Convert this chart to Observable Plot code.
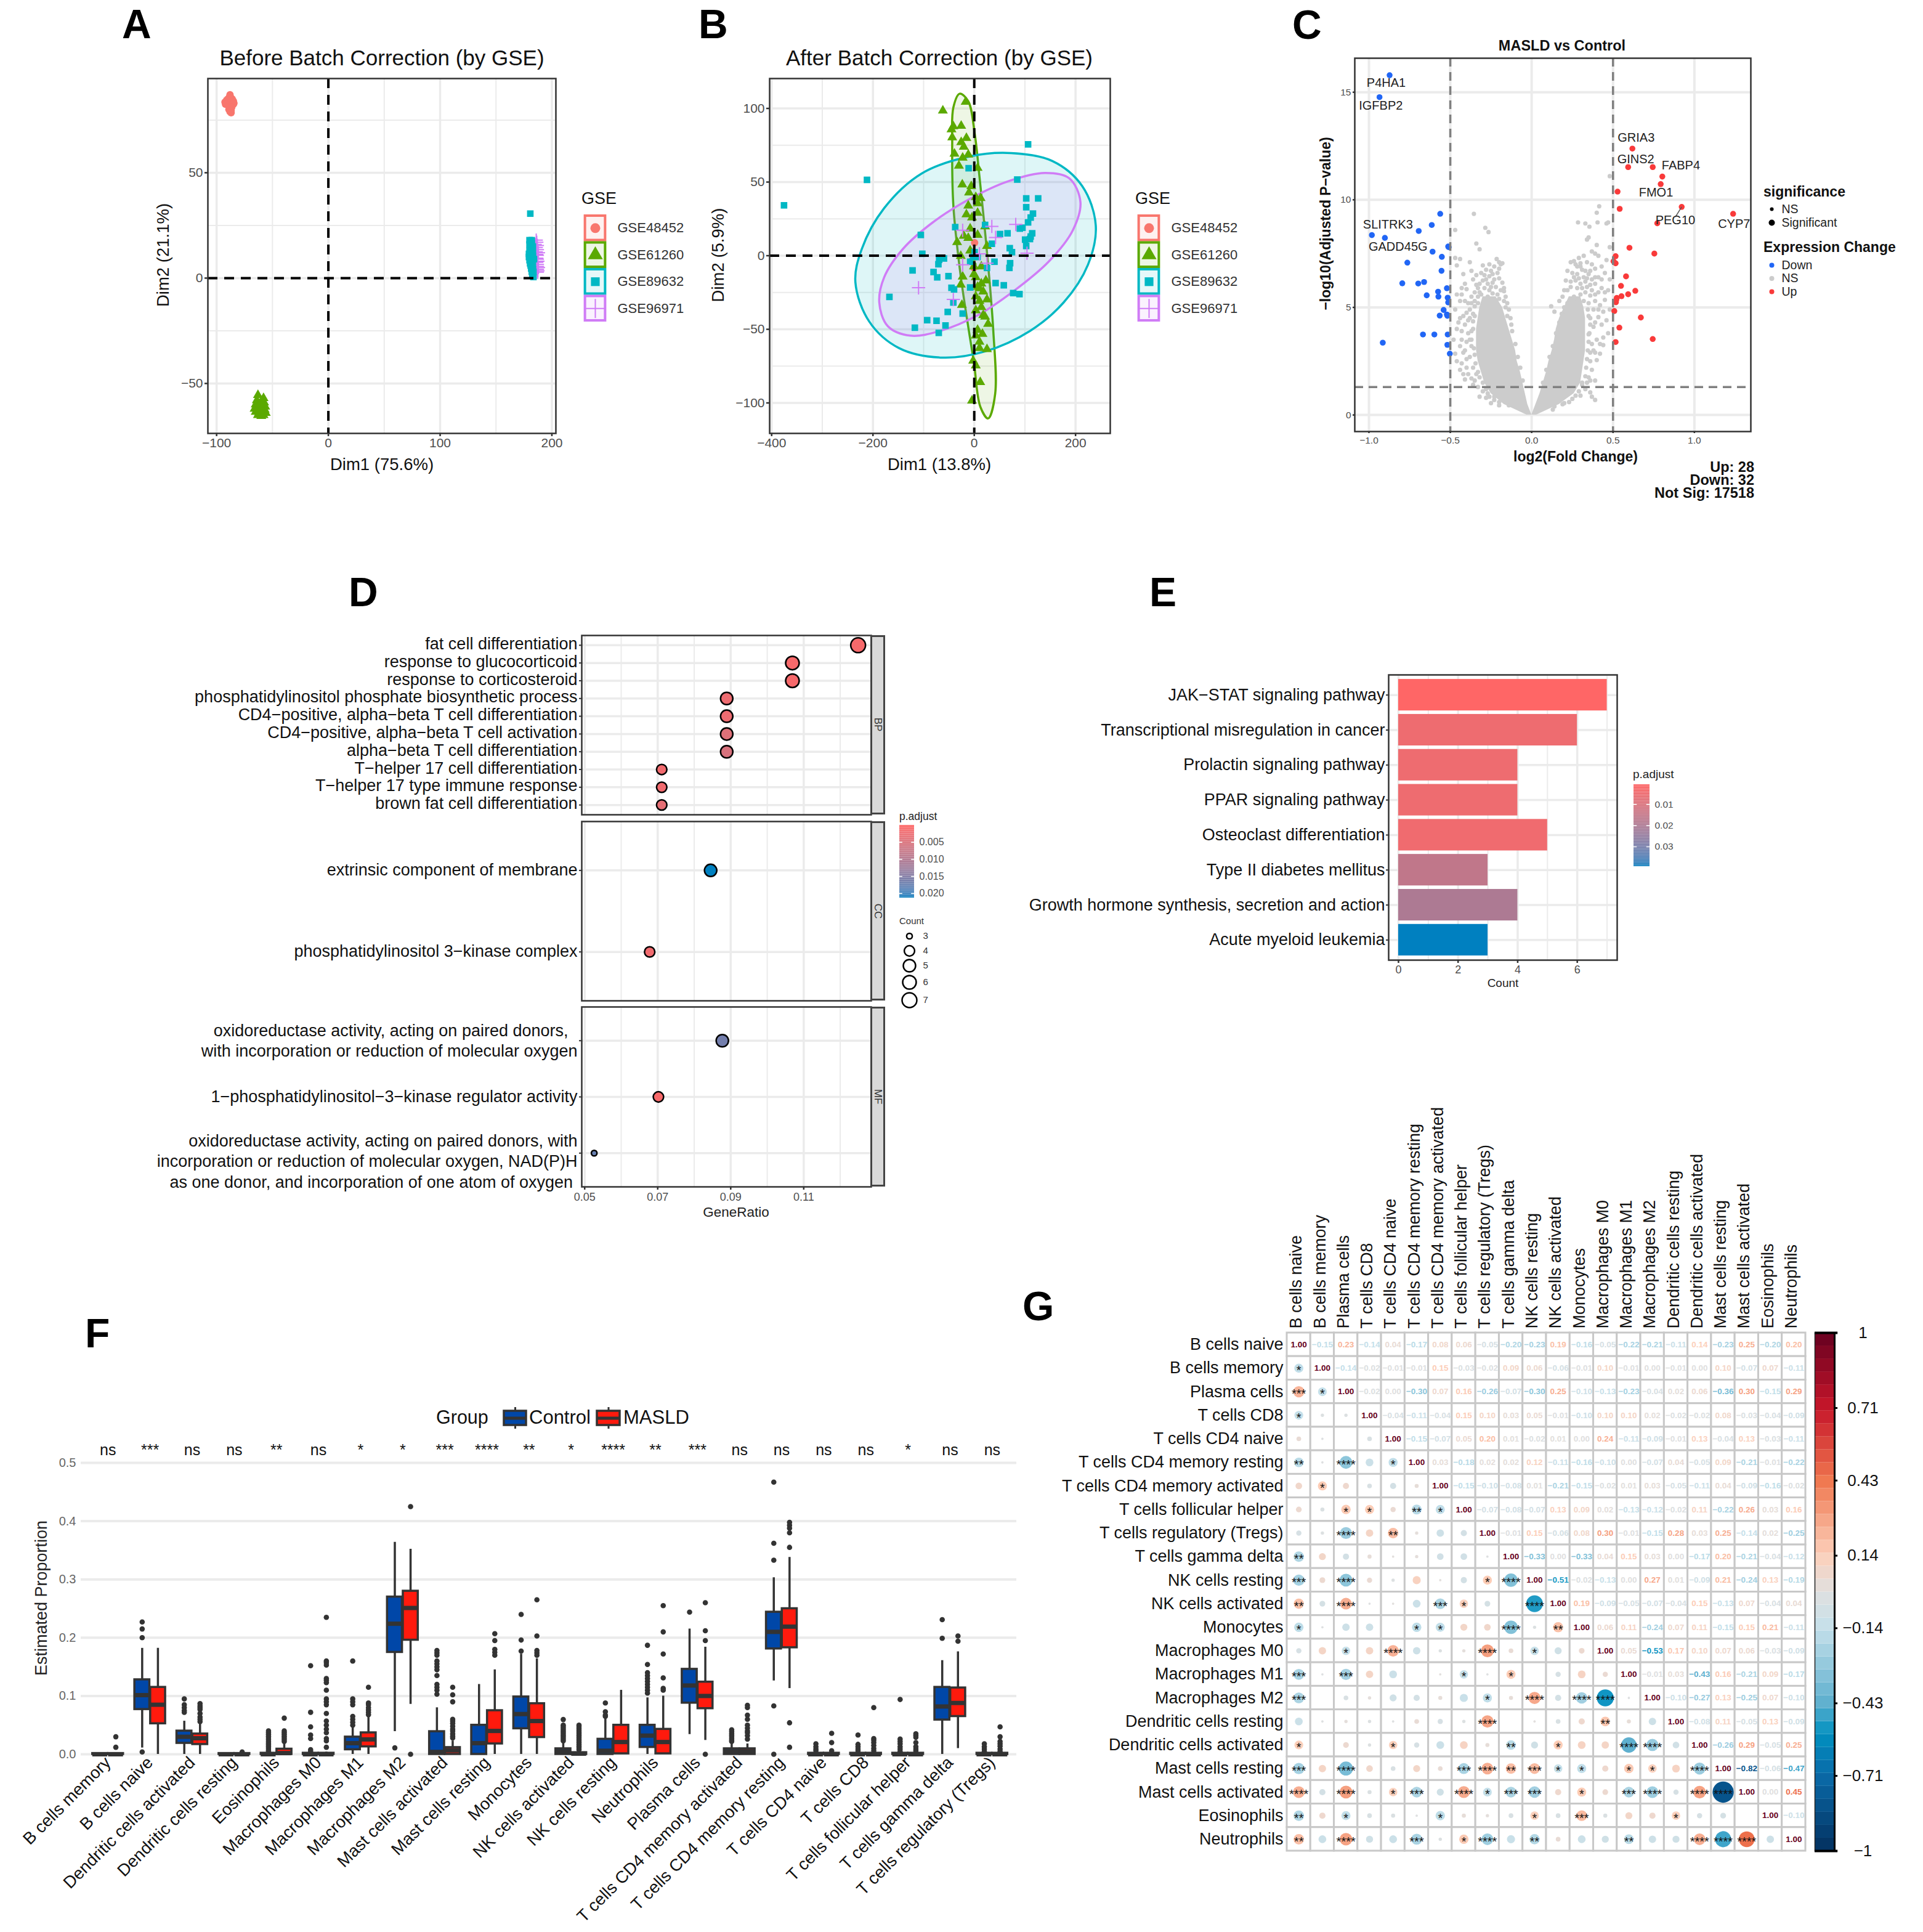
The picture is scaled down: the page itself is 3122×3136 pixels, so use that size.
<!DOCTYPE html>
<html><head><meta charset="utf-8">
<script src="https://cdn.jsdelivr.net/npm/d3@7"></script>
<script src="https://cdn.jsdelivr.net/npm/@observablehq/plot@0.6"></script>
<style>
html,body{margin:0;padding:0;background:#fff;}
#root{position:relative;width:3122px;height:3136px;overflow:hidden;font-family:"Liberation Sans",Arial,sans-serif;background:#fff;}
#root svg{position:absolute;max-width:none;}
.lb{position:absolute;white-space:pre;line-height:1;color:#111;}
.strip{position:absolute;background:#d9d9d9;border:3px solid #444;box-sizing:border-box;}
</style></head><body><div id="root"></div>
<script>
// ---------- Panels A, B ----------
const gseNames=["GSE48452","GSE61260","GSE89632","GSE96971"];
const gseColors=["#F8766D","#5BA900","#00B8C4","#D07CF6"];
const gseSymbols=["circle","triangle","square","plus"];
const pcaA_48452=[[-88,87],[-88.5,86],[-90,85],[-87,85.5],[-86,85],[-91,84.5],[-89,84],[-87,84],[-85,84],[-92.5,83.5],[-90,83],[-88,83],[-86,83.5],[-84.5,83],[-92,82.5],[-89,82],[-87,82],[-85,82.5],[-88,81],[-86.5,81],[-89,80],[-87,79.5],[-88,79],[-87,78.5]];
const pcaA_61260=[[-63,-55.5],[-58,-57],[-64,-58],[-60,-58.5],[-57.5,-59],[-65,-60],[-62,-60],[-59,-60.5],[-56.5,-61],[-66,-62],[-63,-62],[-60,-62],[-57,-62.5],[-65,-63.5],[-62,-64],[-59,-63.5],[-56,-64],[-63,-65],[-60,-65.5],[-58,-65],[-61,-60],[-61,-63]];
const pcaA_89632=[[180.7,30.6],[180,18],[182,18],[180,16],[182,16.5],[181,14.5],[183,15],[180,13],[182,13],[179.5,11.5],[181.5,11.5],[183,12],[179.5,10],[181,10],[183,10.5],[180,8.5],[182,9],[184,9],[180.5,7],[182.5,7.5],[181,6],[183,6],[181.5,4.5],[183,4.5],[182,3],[183.5,3],[182.5,1.5],[183.5,.5]];
const pcaA_96971=[[186,18],[186.5,17],[185,16],[187,15.5],[186,14.5],[187,13.5],[186,12.5],[188,12],[186.5,11.2],[187,10.8],[186.5,9.5],[187,9],[187.5,8],[186.5,7.5],[187,6.5],[187,5.5],[188,5],[187,4.2],[187.5,3.5],[187,2.8]];
const pcaB_48452=[[.7,8.8],[-2.2,2.4],[-4,-3],[-.7,-8.3]];
const pcaB_61260=[[-62,98.5],[-17,104.5],[-41.3,87.8],[-25.8,88.2],[-45,85.7],[-43.5,80.3],[-15.5,79.9],[-25.8,77.1],[-20.7,73.9],[-39.1,69.2],[-11.8,68.6],[-22.9,66.5],[-30.3,61.1],[6.6,59.6],[-23.6,48.3],[-5.9,47.2],[-10.3,42.9],[3,39.7],[12.5,39.1],[-11.8,34],[6.6,35.5],[-15.5,28],[-4.4,25.9],[6.6,29.1],[21.4,19.9],[-8.1,18.4],[-20.7,13.5],[-11.8,12],[6.6,14.1],[-33.9,9.2],[25.1,6.6],[-8.1,3.4],[-26.6,-.2],[14,-7.3],[-.7,-12.6],[-22.9,-14.3],[22.9,-16.9],[14,-19],[-26.6,-19.7],[6.6,-21.2],[17.7,-24.4],[3,-27.6],[25.1,-29.7],[10.3,-30.8],[-24.4,-33.5],[14,-35],[3,-37.2],[21.4,-41.5],[27.3,-46.4],[6.6,-50.4],[16.2,-53.2],[3,-54.3],[10.3,-58.5],[25.1,-63.5],[10.3,-62.8],[-2.2,-71.4],[3,-74.6],[11.8,-85.9],[-4.4,-98.5],[17.7,-40.4],[-4.4,-4.1],[3,-14.7],[10.3,-22.2],[-.7,-7.3]];
const pcaB_89632=[[-375.6,34.2],[-211.8,51.5],[106.3,75.6],[84.9,51.7],[102.6,38.9],[126.2,38.9],[102.6,32.9],[115.9,28.6],[111.4,25.9],[106.3,22.6],[95.2,19],[90,18.4],[114.4,15.2],[111.4,13],[100.4,10.9],[110,11.3],[102.6,6.6],[70.1,5.1],[74.5,2.4],[65.7,15.2],[50.9,14.7],[34.7,8.1],[70.8,-5.1],[69.4,-8.3],[39.9,-4.1],[25.1,-8.3],[42.1,-18.6],[58.3,-20.1],[76.8,-25.4],[89.3,-26.1],[21.4,20.9],[-37.6,19.4],[-105.5,14.1],[-102.6,1.3],[-59.8,-1.9],[-69.4,-2.8],[-70.8,-5.8],[-80.4,-11.1],[-73.1,-14.7],[-50.9,-13.9],[-121.8,-10],[-45,-21.8],[-39.9,-22.9],[-167.5,-28],[-52.4,-38.2],[-22.9,-39.3],[-93,-43.8],[-74.5,-44.2],[-56.8,-47.4],[-117.3,-48.9],[-70.1,-52.4],[-11.1,59.4],[-2.2,-.9],[6.6,-.9],[-8.1,-4.1],[.7,2.4],[-8.1,-21.6],[-41.3,-31.8]];
const pcaB_96971=[[-110,-21.8],[-41.3,-29.7],[-22.9,17.3],[-22.9,-6.2],[34.7,19.9],[42.1,12.4],[81.9,21.2],[104.1,1.7],[25.1,-5.1],[10.3,1.3]];
const ellipseB_89632=[[-234.7,-17.9],[-222.1,4.5],[-177.9,32.3],[-104,55.8],[-8.1,67.5],[73,69.7],[154.2,64.3],[213.3,47.2],[239.9,20.5],[224.4,-6.2],[176.4,-31.8],[110,-51.1],[21.4,-65],[-63.5,-69.2],[-148.3,-62.8],[-207.4,-44.7]];
const ellipseB_96971=[[-187.5,-31.8],[-177.9,-14.7],[-141,4.5],[-81.9,22.6],[-8.1,38.7],[65.7,50.4],[139.5,56.2],[187.5,52.6],[209.6,36.5],[194.8,17.4],[146.8,-4.1],[80.4,-23.4],[6.6,-40.5],[-67.2,-51.1],[-126.3,-54.3],[-170.6,-47.9]];
const ellipseB_61260=[[-28.8,110],[-11.8,104.9],[.7,83.5],[10.3,53.6],[25.1,2.4],[37.6,-51.1],[41.3,-93.8],[27.3,-110.5],[11.8,-102.4],[-.7,-72.4],[-15.5,-40.4],[-28.8,-8.3],[-41.3,34.4],[-43.5,77.1],[-41.3,100.6]];
// ---------- Panel C ----------
const volcanoUp=[[.619,12.38],[.593,11.52],[.744,11.52],[.803,11.08],[.793,10.73],[.528,10.38],[.541,9.58],[.922,9.67],[1.238,9.35],[.772,8.91],[.601,7.77],[.754,7.5],[.516,7.38],[.503,7.14],[.516,7.05],[.58,6.44],[.549,6],[.637,5.77],[.593,5.61],[.552,5.52],[.523,5.44],[.518,5.24],[.52,5.35],[.508,4.83],[.671,4.53],[.539,4.06],[.744,3.53],[.516,3.39]];
const volcanoDown=[[-.873,15.79],[-.935,14.77],[-.562,9.35],[-.614,8.83],[-.694,8.55],[-.982,8.36],[-.902,8.23],[-.513,7.83],[-.51,7.8],[-.609,7.59],[-.552,7.35],[-.764,7.08],[-.554,6.7],[-.795,6.12],[-.697,6.11],[-.661,6.18],[-.521,5.89],[-.575,5.73],[-.645,5.56],[-.573,5.5],[-.516,5.45],[-.513,5.23],[-.541,4.88],[-.565,4.62],[-.521,4.67],[-.518,4.61],[-.668,3.74],[-.598,3.74],[-.516,3.74],[-.915,3.36],[-.518,3.26],[-.503,2.85]];
const volcanoNS=[[-.355,9.35],[-.285,8.7],[-.265,8.5],[-.47,8.6],[-.34,7.97],[-.32,7.7],[-.47,7.3],[-.44,7.25],[-.46,6.95],[-.215,7.25],[-.19,7],[-.2,6.8],[-.18,7.05],[-.21,6.6],[-.25,6.7],[-.28,6.75],[-.3,6.95],[-.29,6.5],[-.38,7.1],[-.42,6.55],[-.41,6.1],[-.4,5.85],[-.43,5.6],[-.44,5.3],[-.36,6.3],[-.34,6.05],[-.3,6.25],[-.27,6.1],[-.24,6.15],[-.2,6.35],[-.18,6.15],[-.22,5.95],[-.17,5.9],[-.26,5.8],[-.32,5.7],[-.37,5.5],[-.39,5.2],[-.38,4.9],[-.42,4.6],[-.45,4.3],[-.41,4.2],[-.38,4.5],[-.43,3.9],[-.39,3.8],[-.4,3.4],[-.44,3.2],[-.47,2.85],[-.46,2.5],[-.42,2.9],[-.37,3.2],[-.38,2.7],[-.43,2.4],[-.44,2.1],[-.4,2.2],[-.39,1.9],[-.37,1.7],[-.35,1.6],[-.41,1.65],[-.33,1.3],[-.3,1.1],[-.32,.85],[-.26,.85],[-.23,.7],[-.2,.45],[-.14,.45],[-.36,2.2],[-.36,4],[-.36,4.7],[-.35,5.3],[-.33,5.5],[-.16,5.5],[-.15,5.2],[-.14,4.9],[-.13,4.5],[-.17,5.75],[-.24,5.65],
[-.31,5.6],[-.29,5.9],[-.27,5.5],[-.25,5.95],[-.23,6.3],[-.21,5.6],[-.19,5.8],[-.28,6.3],[-.26,6.45],[-.24,6.55],[-.32,6.1],[-.33,5.9],[-.35,5.7],[-.29,5.3],[-.25,5.3],[-.2,5.4],[-.17,5.3],[-.16,5],[-.15,4.6],[-.125,4.2],[-.12,3.9],[-.1,3.3],[-.085,2.7],[-.07,2.2],[-.055,1.6],[-.35,4.6],[-.36,4.35],[-.37,3.9],[-.37,3.5],[-.355,3.1],[-.35,2.8],[-.345,2.4],[-.33,2],[-.32,1.75],[-.3,1.5],[-.28,1.2],[-.27,1],[-.23,.85],[-.2,.6],[-.39,4.4],[-.4,4.75],[-.35,5.05],[-.37,5.2],[-.33,5.2],[-.31,6.6],[-.23,6.9],[-.2,7.1],[-.26,7],[-.34,6.5],[-.37,6.7],[-.43,5.9],[-.46,5.6],[-.41,5.3],[-.47,4.9],[-.44,4.5],[-.46,4],[-.48,3.5],[-.43,3.5],[-.41,3],[-.38,3.5],[-.4,2.6],[-.34,1.9],[-.36,1.4],[-.42,1.9],[-.28,.8],[-.25,.55],
[.48,11.1],[.415,9.7],[.4,9.4],[.47,8.95],[.46,8.9],[.285,8.95],[.33,8.9],[.355,8.75],[.405,8.95],[.34,8.15],[.35,8.25],[.4,7.9],[.48,7.8],[.41,7.4],[.26,7.15],[.24,7.1],[.27,7],[.3,7.05],[.34,7.1],[.37,7],[.39,6.8],[.43,6.9],[.46,7.2],[.22,6.7],[.25,6.6],[.28,6.55],[.31,6.75],[.35,6.55],[.41,6.4],[.45,6.6],[.48,6.3],[.21,6.25],[.24,6.2],[.27,6.25],[.3,6.1],[.33,6.2],[.36,6.05],[.39,6.1],[.43,5.9],[.47,5.8],[.22,5.8],[.19,5.5],[.17,5.3],[.12,5.05],[.14,4.8],[.2,5.8],[.33,5.7],[.36,5.55],[.39,5.3],[.42,5.1],[.45,5.35],[.48,4.9],[.38,4.9],[.41,4.55],[.36,4.5],[.46,4.4],[.43,4.2],[.38,4.1],[.47,3.8],[.35,3.75],[.4,3.5],[.44,3.25],[.38,3],[.42,2.85],[.4,2.55],[.36,2.5],[.37,2.1],[.35,1.75],[.39,1.6],[.31,1.5],[.33,1.2],[.36,1.05],[.39,.7],[.37,.85],[.3,.9],[.25,.75],[.19,.5],[.14,.4],[.13,.25],
[.3,5.6],[.28,5.9],[.26,5.5],[.24,5.95],[.26,6.4],[.29,6.35],[.32,6.4],[.34,6.35],[.37,6.3],[.31,5.9],[.34,5.95],[.37,5.8],[.39,5.6],[.41,5.7],[.35,5.2],[.32,5.3],[.28,5.3],[.24,5.4],[.22,5.2],[.2,5],[.185,4.7],[.17,4.3],[.15,3.8],[.13,3.2],[.11,2.7],[.09,2.1],[.07,1.5],[.345,4.9],[.35,4.6],[.36,4.2],[.355,3.8],[.35,3.4],[.345,3],[.34,2.6],[.335,2.2],[.33,1.8],[.31,1.4],[.29,1.1],[.27,.9],[.23,.6],[.2,.55],[.39,4.3],[.41,4.9],[.44,4.8],[.44,3.6],[.42,3.3],[.37,3.3],[.39,2.9],[.36,2.9],[.36,1.6],[.34,1.5],[.28,6.9],[.3,6.9],[.33,6.7],[.36,6.7],[.39,6.4],[.43,6.3],[.45,5.7],[.29,7.3],[.32,7.4],[.37,7.6],[.39,7.5]];
// dense body of the volcano, read as an envelope: y, left arm outer/inner, right arm inner/outer
const coreY=[0,.5,1,1.5,2,2.5,3,3.5,4,4.5,5,5.5];
const coreLeftOuter=[-.03,-.17,-.25,-.29,-.31,-.33,-.34,-.34,-.34,-.33,-.32,-.3];
const coreLeftInner=[0,-.025,-.04,-.055,-.07,-.09,-.1,-.12,-.14,-.16,-.18,-.22];
const coreRightInner=[0,.025,.05,.07,.09,.105,.125,.14,.15,.17,.2,.23];
const coreRightOuter=[.03,.17,.26,.3,.31,.32,.33,.33,.33,.33,.32,.3];
const volcanoGenes=["P4HA1","IGFBP2","SLITRK3","GADD45G","GRIA3","GINS2","FABP4","FMO1","PEG10","CYP7"];
const geneLabelX=[-.894,-.927,-.883,-.821,.642,.64,.917,.764,.883,1.244];
const geneLabelY=[15.42,14.36,8.86,7.83,12.88,11.88,11.59,10.33,9.05,8.88];
// ---------- Panel D ----------
const bpTerms=["fat cell differentiation","response to glucocorticoid","response to corticosteroid","phosphatidylinositol phosphate biosynthetic process","CD4−positive, alpha−beta T cell differentiation","CD4−positive, alpha−beta T cell activation","alpha−beta T cell differentiation","T−helper 17 cell differentiation","T−helper 17 type immune response","brown fat cell differentiation"];
const bpRatio=[.1249,.1069,.1069,.0889,.0889,.0889,.0889,.0711,.0711,.0711];
const bpCount=[7,6,6,5,5,5,5,4,4,4];
const bpP=[.0012,.0012,.0012,.0025,.0025,.0045,.0055,.002,.002,.0035];
const ccTerms=["extrinsic component of membrane","phosphatidylinositol 3−kinase complex"];
const ccRatio=[.0845,.0678];const ccCount=[5,4];const ccP=[.0213,.002];
const mfTerms=["oxidoreductase activity, acting on paired donors,\u00a0\u00a0\nwith incorporation or reduction of molecular oxygen","1−phosphatidylinositol−3−kinase regulator activity","oxidoreductase activity, acting on paired donors, with\nincorporation or reduction of molecular oxygen, NAD(P)H\nas one donor, and incorporation of one atom of oxygen\u00a0"];
const mfRatio=[.0877,.0702,.0526];const mfCount=[5,4,3];const mfP=[.0165,.001,.0175];
const countSizes=[3,4,5,6,7];
const countRadii=[4.6,8.4,10,11,12];
// ---------- Panel E ----------
const keggTerms=["JAK−STAT signaling pathway","Transcriptional misregulation in cancer","Prolactin signaling pathway","PPAR signaling pathway","Osteoclast differentiation","Type II diabetes mellitus","Growth hormone synthesis, secretion and action","Acute myeloid leukemia"];
const keggCount=[7,6,4,4,5,3,4,3];
const keggP=[.00064,.005,.005,.005,.0045,.016,.02,.0393];
// ---------- Panel F ----------
const boxCats=["B cells memory","B cells naive","Dendritic cells activated","Dendritic cells resting","Eosinophils","Macrophages M0","Macrophages M1","Macrophages M2","Mast cells activated","Mast cells resting","Monocytes","NK cells activated","NK cells resting","Neutrophils","Plasma cells","T cells CD4 memory activated","T cells CD4 memory resting","T cells CD4 naive","T cells CD8","T cells follicular helper","T cells gamma delta","T cells regulatory (Tregs)"];
const boxSig=["ns","***","ns","ns","**","ns","*","*","***","****","**","*","****","**","***","ns","ns","ns","ns","*","ns","ns"];
// each: q1, median, q3, whisker low, whisker high
const boxControl=[[0,0,.0015,0,.002],[.077,.1015,.128,.011,.182],[.019,.03,.04,0,.057],[0,0,.0015,0,.002],[0,0,.002,0,.004],[0,0,.002,0,.004],[.008,.019,.0297,0,.048],[.175,.224,.27,.039,.364],[0,.004,.039,0,.08],[0,.019,.05,0,.12],[.044,.069,.0985,0,.172],[0,.005,.0096,0,.019],[0,.006,.026,0,.063],[.012,.032,.05,0,.097],[.088,.118,.146,.034,.215],[0,.005,.0096,0,.02],[.181,.21,.244,.126,.303],[0,0,.002,0,.003],[0,0,.002,0,.003],[0,0,.002,0,.003],[.059,.082,.115,0,.161],[0,0,.002,0,.003]];
const boxMasld=[[0,0,.0015,0,.002],[.0526,.085,.115,0,.182],[.017,.0275,.035,0,.0526],[0,0,.0015,0,.002],[0,.002,.009,0,.02],[0,0,.002,0,.004],[.013,.0255,.037,0,.065],[.196,.251,.28,.086,.352],[0,.0067,.0117,0,.023],[.018,.04,.075,0,.145],[.029,.057,.087,0,.164],[0,.001,.003,0,.007],[.001,.021,.05,0,.11],[.001,.021,.043,0,.1],[.0785,.1,.124,.024,.184],[0,.005,.0096,0,.018],[.183,.219,.25,.113,.338],[0,0,.002,0,.003],[0,0,.002,0,.003],[0,0,.002,0,.003],[.065,.088,.114,.01,.176],[0,0,.002,0,.003]];
const outControl=[[],[.227,.215,.2,.004],[.095,.085,.08,.075,.072],[],[.04,.037,.034,.031,.028,.025,.022,.019,.016,.013,.01,.007,.005],[.152,.072,.047,.033,.027,.008,.005],[.16,.095,.09,.085,.065,.06,.055,.05],[.011],[.178,.174,.17,.16,.155,.15,.145,.135,.12,.115,.11,.103],[],[.24,.196,.177],[.0596,.05,.047,.044,.041,.038,.035,.032,.029,.026,.023],[.088,.073,.067,.065],[.187,.154,.14,.135,.13,.125,.12,.115,.11,.105],[.244],[.042,.039,.036,.033,.03,.027,.024,.022],[.467,.362,.333,.083,0],[.018,.013,.009,.006],[.033,.017,.013,.009,.006],[.094,.026,.022,.018,.013,.009,.005],[.231,.199],[.018,.013,.009,.005]];
const outMasld=[[.03,.012],[],[.087,.083,.08,.077,.07,.064,.06,.056],[.004],[.062,.04,.037,.034,.031,.028,.025,.022],[.235,.16,.157,.153,.13,.127,.123,.11,.095,.09,.085,.07,.057,.05,.043,.037,.027,.023,.012],[.115,.088,.085,.08,.076,.072,.068],[.425,0],[.115,.102,.09,.06,.057,.053,.048,.043,.04,.035,.031,.028],[.207,.195,.18,.175,.17],[.265,.203,.178,.174,.17],[.05,.047,.044,.041,.038,.035,.032,.029,.026,.023,.02,.017,.014,.011,.008],[],[.255,.21,.172,.131,.113,.11],[.26,.212,.195,0],[.084,.08,.067,.06,.05,.045,.04,.037,.032,.026],[.398,.393,.388,.38,.355,.054,.012],[.036,.02,.006],[.08,.027,.024,.02,.015,.01,.006],[.035,.032,.029,.02,.013,.009,.006],[.203,.194],[.047,.03,.022,.018,.014,.009,.005]];
// ---------- Panel G ----------
const corrLabels=["B cells naive","B cells memory","Plasma cells","T cells CD8","T cells CD4 naive","T cells CD4 memory resting","T cells CD4 memory activated","T cells follicular helper","T cells regulatory (Tregs)","T cells gamma delta","NK cells resting","NK cells activated","Monocytes","Macrophages M0","Macrophages M1","Macrophages M2","Dendritic cells resting","Dendritic cells activated","Mast cells resting","Mast cells activated","Eosinophils","Neutrophils"];
const corrUpper=[
[1,-.15,.23,-.14,.04,-.17,.08,.06,-.05,-.20,-.23,.19,-.16,-.05,-.22,-.21,-.11,.14,-.23,.25,-.20,.20],
[1,-.14,-.02,-.01,-.01,.15,-.03,-.02,.09,.06,-.06,-.01,.10,-.01,.00,-.01,.00,.10,-.07,.07,-.11],
[1,-.02,.00,-.30,.07,.16,-.26,-.07,-.30,.25,-.10,-.13,-.23,-.04,.02,.06,-.36,.30,-.15,.29],
[1,-.04,-.11,-.04,.15,.10,.03,.05,-.01,-.10,.10,.10,.02,-.02,-.02,.08,-.03,-.04,-.09],
[1,-.15,-.07,.05,.20,.01,-.02,.01,.00,.24,-.11,-.09,-.01,.13,-.04,.13,-.03,-.11],
[1,.03,-.18,.02,.02,.12,-.11,-.16,-.10,.00,-.07,.04,-.05,.09,-.21,-.01,-.22],
[1,-.15,-.10,-.08,.01,-.21,-.15,-.02,.01,.03,-.05,-.11,.04,-.09,-.16,-.02],
[1,-.07,-.08,-.07,.13,.09,.02,-.13,-.12,-.02,.11,-.22,.26,.03,.16],
[1,-.01,.15,-.06,.08,.30,-.01,-.15,.28,.03,.25,-.14,.02,-.25],
[1,-.33,.00,-.33,.04,.15,.03,.00,-.17,.20,-.21,-.04,-.12],
[1,-.51,-.02,-.13,.00,.27,.01,-.09,.21,-.24,.13,-.19],
[1,.19,-.09,-.05,-.07,-.04,.15,-.13,.07,-.04,.04],
[1,.06,.11,-.24,.07,.11,-.15,.15,.21,-.11],
[1,.05,-.53,.17,.10,.07,.06,-.03,-.09],
[1,-.01,.03,-.43,.16,-.21,.09,-.17],
[1,-.10,-.27,.13,-.25,.07,-.10],
[1,-.08,.11,-.05,.13,-.09],
[1,-.26,.29,-.05,.25],
[1,-.82,-.06,-.47],
[1,.00,.45],
[1,-.10],
[1]];
// [row, column, number of stars] in the lower triangle
const corrStars=[[1,0,1],[2,0,3],[2,1,1],[3,0,1],[5,0,2],[5,2,4],[5,4,1],[6,1,1],[7,2,1],[7,3,1],[7,5,2],[7,6,1],[8,2,4],[8,4,2],[9,0,2],[10,0,3],[10,2,4],[10,8,1],[10,9,4],[11,0,2],[11,2,4],[11,6,3],[11,7,1],[11,10,4],[12,0,1],[12,5,1],[12,6,1],[12,9,4],[12,11,2],[13,2,1],[13,4,4],[13,8,4],[13,10,1],[14,0,3],[14,2,3],[14,7,1],[14,9,1],[15,0,3],[15,8,1],[15,10,4],[15,12,4],[15,13,4],[16,8,4],[16,13,2],[17,0,1],[17,4,1],[17,9,2],[17,11,1],[17,14,4],[17,15,4],[18,0,3],[18,2,4],[18,7,3],[18,8,4],[18,9,2],[18,10,3],[18,11,1],[18,12,1],[18,14,1],[18,15,1],[18,17,4],[19,0,4],[19,2,4],[19,4,1],[19,5,3],[19,7,4],[19,8,1],[19,9,3],[19,10,3],[19,12,1],[19,14,3],[19,15,4],[19,17,4],[19,18,4],[20,0,2],[20,2,1],[20,6,1],[20,10,1],[20,12,3],[20,16,1],[21,0,2],[21,2,4],[21,5,3],[21,7,1],[21,8,4],[21,10,2],[21,14,2],[21,17,4],[21,18,4],[21,19,4]];
const corrTicks=[1,.71,.43,.14,-.14,-.43,-.71,-1];

// ---------- helpers ----------
const root=document.getElementById("root");
const FONT='"Liberation Sans",Arial,sans-serif';
const GRID="#ebebeb";
const TICK="#4d4d4d";
function label(text,x,y,o={}){
  const d=document.createElement("div");d.className="lb";d.textContent=text;
  const a=o.anchor||"start";const tx=a==="middle"?"-50%":a==="end"?"-100%":"0";
  d.style.left=x+"px";d.style.top=y+"px";d.style.fontSize=(o.size||24)+"px";
  d.style.fontWeight=o.weight||"normal";if(o.color)d.style.color=o.color;
  d.style.transform=`translate(${tx},-50%)`;
  root.append(d);return d;
}
function rlabel(text,x,y,o={}){ // rotated text centred on x,y
  const d=label(text,x,y,{...o,anchor:"middle"});
  d.style.transform=`translate(-50%,-50%) rotate(${o.rotate}deg)`;return d;
}
// builds a Plot whose frame occupies page box x0..x1, y0..y1
function panel(x0,x1,y0,y1,m,spec){
  const ml=m.l??80,mr=m.r??20,mt=m.t??20,mb=m.b??50;
  const p=Plot.plot({width:Math.round(x1-x0)+ml+mr,height:Math.round(y1-y0)+mt+mb,marginLeft:ml,marginRight:mr,marginTop:mt,marginBottom:mb,
    style:{background:"transparent",fontFamily:FONT,overflow:"visible"},...spec});
  p.style.left=(x0-ml)+"px";p.style.top=(y0-mt)+"px";root.append(p);return p;
}
const fmt=d3.format("");
const axX=(ticks,o={})=>Plot.axisX(ticks,{anchor:"bottom",label:null,tickSize:5,tickPadding:3,fontSize:21,fill:TICK,stroke:"#333",strokeWidth:2.5,tickFormat:fmt,...o});
const axY=(ticks,o={})=>Plot.axisY(ticks,{anchor:"left",label:null,tickSize:5,tickPadding:3,fontSize:21,fill:TICK,stroke:"#333",strokeWidth:2.5,tickFormat:fmt,...o});
const grid=(xMaj,yMaj,xMin=[],yMin=[],w=3.5)=>[
  Plot.ruleX(xMin,{stroke:GRID,strokeWidth:2}),Plot.ruleY(yMin,{stroke:GRID,strokeWidth:2}),
  Plot.ruleX(xMaj,{stroke:GRID,strokeWidth:w}),Plot.ruleY(yMaj,{stroke:GRID,strokeWidth:w})];
const frame=()=>Plot.frame({stroke:"#333",strokeWidth:2.5});
const tx=d=>d[0],ty=d=>d[1];
function gseDots(data,k,r=6){
  if(gseSymbols[k]==="plus")return Plot.dot(data,{x:tx,y:ty,symbol:"plus",r:r+1,stroke:gseColors[k],strokeWidth:2,fill:"none"});
  return Plot.dot(data,{x:tx,y:ty,symbol:gseSymbols[k],r,fill:gseColors[k],stroke:"none"});
}
function gseLegend(x0){
  label("GSE",x0-2,322,{size:27});
  panel(x0,x0+40,349.5,519,{l:3,r:200,t:3,b:3},{
    x:{type:"band",domain:["k"],axis:null,round:false},
    y:{type:"band",domain:gseNames,axis:null,paddingInner:.09,paddingOuter:0,round:false},
    color:{domain:gseNames,range:gseColors},
    marks:[
      Plot.cell(gseNames,{x:()=>"k",y:d=>d,fill:d=>d,stroke:d=>d,strokeWidth:4,fillOpacity:.1}),
      ...gseNames.map((n,k)=>gseSymbols[k]==="plus"
        ?Plot.dot([n],{x:()=>"k",y:d=>d,symbol:"plus",r:10,stroke:gseColors[k],strokeWidth:2,fill:"none"})
        :Plot.dot([n],{x:()=>"k",y:d=>d,symbol:gseSymbols[k],r:k===1?9:8,fill:gseColors[k]})),
      Plot.text(gseNames,{x:()=>"k",y:d=>d,text:d=>d,dx:36,textAnchor:"start",fontSize:22,fill:"#333"})
    ]});
}
function gradientBar(x0,x1,y0,y1,top,bot,colors,ticks,tf,o={}){
  const n=80,vals=d3.range(n).map(i=>top+(bot-top)*i/n),st=(bot-top)/n;
  panel(x0,x1,y0,y1,{l:2,r:90,t:2,b:2},{
    x:{domain:[0,1],axis:null},
    y:{domain:[bot,top],axis:null},
    color:{type:"linear",domain:[top,bot],range:colors,interpolate:"lab"},
    marks:[
      Plot.rect(vals,{x1:()=>0,x2:()=>1,y1:d=>d,y2:d=>d+st,fill:d=>d+st/2}),
      Plot.ruleY(ticks,{x1:()=>0,x2:()=>.2,stroke:"#fff",strokeWidth:1.5}),
      Plot.ruleY(ticks,{x1:()=>.8,x2:()=>1,stroke:"#fff",strokeWidth:1.5}),
      Plot.text(ticks,{frameAnchor:"right",y:d=>d,text:tf,dx:8,textAnchor:"start",fontSize:o.size||15,fill:TICK})
    ]});
}

// ---------- panel letters ----------
[["A",198,39],["B",1134,39],["C",2098,40],["D",566,961],["E",1866,961],["F",138,2164],["G",1660,2120]].forEach(([t,x,y])=>label(t,x,y,{size:66,weight:"bold",color:"#000"}));

// ---------- A ----------
label("Before Batch Correction (by GSE)",620,93,{size:35,anchor:"middle"});
panel(337,902,126.5,702.5,{},{
  x:{domain:[-107.8,203.6],axis:null},y:{domain:[-73.7,94.7],axis:null},
  marks:[
    ...grid([-100,0,100,200],[-50,0,50],[-50,50,150],[-25,25,75]),
    gseDots(pcaA_48452,0),gseDots(pcaA_61260,1),gseDots(pcaA_96971,3),gseDots(pcaA_89632,2),
    Plot.ruleX([0],{stroke:"#000",strokeWidth:4,strokeDasharray:"16 11"}),
    Plot.ruleY([0],{stroke:"#000",strokeWidth:4,strokeDasharray:"16 11"}),
    frame(),axX([-100,0,100,200]),axY([-50,0,50])]});
label("Dim1 (75.6%)",620,754,{size:27.5,anchor:"middle"});
rlabel("Dim2 (21.1%)",265,414,{size:27.5,rotate:-90});
gseLegend(946);

// ---------- B ----------
label("After Batch Correction (by GSE)",1525,93,{size:35,anchor:"middle"});
panel(1249,1801.5,126.5,702.5,{},{
  x:{domain:[-404,268.5],axis:null},y:{domain:[-120.7,120.3],axis:null},
  marks:[
    ...grid([-400,-200,0,200],[-100,-50,0,50,100],[-300,-100,100],[-75,-25,25,75]),
    Plot.line(ellipseB_61260,{x:tx,y:ty,curve:"catmull-rom-closed",stroke:gseColors[1],strokeWidth:3.5,fill:gseColors[1],fillOpacity:.1}),
    Plot.line(ellipseB_89632,{x:tx,y:ty,curve:"catmull-rom-closed",stroke:gseColors[2],strokeWidth:3.5,fill:gseColors[2],fillOpacity:.13}),
    Plot.line(ellipseB_96971,{x:tx,y:ty,curve:"catmull-rom-closed",stroke:gseColors[3],strokeWidth:3.5,fill:gseColors[3],fillOpacity:.13}),
    gseDots(pcaB_48452,0),gseDots(pcaB_61260,1),gseDots(pcaB_89632,2),gseDots(pcaB_96971,3),
    Plot.ruleX([0],{stroke:"#000",strokeWidth:4,strokeDasharray:"16 11"}),
    Plot.ruleY([0],{stroke:"#000",strokeWidth:4,strokeDasharray:"16 11"}),
    frame(),axX([-400,-200,0,200]),axY([-100,-50,0,50,100])]});
label("Dim1 (13.8%)",1525,754,{size:27.5,anchor:"middle"});
rlabel("Dim2 (5.9%)",1166,414,{size:27.5,rotate:-90});
gseLegend(1845);

// ---------- C ----------
label("MASLD vs Control",2536,75,{size:23.5,weight:"bold",anchor:"middle"});
const coreTable=coreY.map((y,i)=>({y,lo:coreLeftOuter[i],li:coreLeftInner[i],ri:coreRightInner[i],ro:coreRightOuter[i]}));
panel(2199,2841.7,94.2,699.8,{l:60,b:40},{
  x:{domain:[-1.087,1.347],axis:null},y:{domain:[-.77,16.58],axis:null},
  marks:[
    ...grid([-1,-.5,0,.5,1],[0,5,10,15],[],[],4),
    Plot.areaX(coreTable,{y:"y",x1:"lo",x2:"li",fill:"#cccccc"}),
    Plot.areaX(coreTable,{y:"y",x1:"ri",x2:"ro",fill:"#cccccc"}),
    Plot.dot(volcanoNS,{x:tx,y:ty,r:3.6,fill:"#cccccc"}),
    Plot.dot(volcanoDown,{x:tx,y:ty,r:4.8,fill:"#2166f5"}),
    Plot.dot(volcanoUp,{x:tx,y:ty,r:4.8,fill:"#f93a3a"}),
    Plot.ruleX([-.5,.5],{stroke:"#808080",strokeWidth:3.5,strokeDasharray:"14 9"}),
    Plot.ruleY([1.3],{stroke:"#808080",strokeWidth:3.5,strokeDasharray:"14 9"}),
    Plot.link([[.883,9.2,.922,9.67]],{x1:d=>d[0],y1:d=>d[1],x2:d=>d[2],y2:d=>d[3],stroke:"#555",strokeWidth:1.5}),
    Plot.text(volcanoGenes,{x:(d,i)=>geneLabelX[i],y:(d,i)=>geneLabelY[i],text:d=>d,fontSize:20,fill:"#222"}),
    frame(),
    axX([-1,-.5,0,.5,1],{fontSize:15.5,tickSize:3,tickPadding:5,tickFormat:d3.format(".1f")}),
    axY([0,5,10,15],{fontSize:15.5,tickSize:3,tickPadding:3})]});
label("log2(Fold Change)",2558,741,{size:23,weight:"bold",anchor:"middle"});
rlabel("−log10(Adjusted P−value)",2152,363,{size:23,weight:"bold",rotate:-90});
[["Up: 28",759],["Down: 32",780],["Not Sig: 17518",801]].forEach(([t,y])=>label(t,2848,y,{size:23.5,weight:"bold",anchor:"end"}));
label("significance",2863,311,{size:23,weight:"bold"});
label("Expression Change",2863,401,{size:23,weight:"bold"});
{
  const sigItems=["NS","Significant"],sizeR={NS:3,Significant:5};
  panel(2867,2885,339,360.5,{l:0,r:160,t:12,b:12},{
    x:{domain:[0,1],axis:null},y:{type:"point",domain:sigItems,axis:null,padding:0,round:false},
    marks:[Plot.dot(sigItems,{x:()=>.5,y:d=>d,r:{value:d=>sizeR[d],scale:null},fill:"#000"}),
      Plot.text(sigItems,{x:()=>.5,y:d=>d,text:d=>d,dx:16,textAnchor:"start",fontSize:19.5,fill:"#222"})]});
  const chgItems=["Down","NS","Up"],chgCol={Down:"#2166f5",NS:"#cccccc",Up:"#f93a3a"};
  panel(2867,2885,430,473,{l:0,r:160,t:12,b:12},{
    x:{domain:[0,1],axis:null},y:{type:"point",domain:chgItems,axis:null,padding:0,round:false},
    marks:[Plot.dot(chgItems,{x:()=>.5,y:d=>d,r:4,fill:d=>chgCol[d]}),
      Plot.text(chgItems,{x:()=>.5,y:d=>d,text:d=>d,dx:16,textAnchor:"start",fontSize:19.5,fill:"#222"})]});
}

// ---------- D ----------
const dColor={type:"linear",domain:[0,.0213],range:["#ff6666","#0080c0"],interpolate:"lab"};
const radiusOf=c=>countRadii[countSizes.indexOf(c)];
function goPanel(y0,y1,terms,ratio,count,pv,strip,pad,labelDy,xAxis){
  const rows=terms.map((t,i)=>({t,x:ratio[i],c:count[i],p:pv[i]}));
  panel(943.8,1414,y0,y1,{l:720,r:30,t:5,b:xAxis?50:5},{
    x:{domain:[.0492,.1285],axis:null},
    y:{type:"point",domain:terms,padding:pad,axis:null,round:false},
    color:dColor,
    marks:[
      Plot.ruleX([.06,.08,.1,.12],{stroke:GRID,strokeWidth:2}),
      Plot.ruleX([.05,.07,.09,.11],{stroke:GRID,strokeWidth:3.5}),
      Plot.ruleY(terms,{y:d=>d,stroke:GRID,strokeWidth:3.5}),
      Plot.dot(rows,{x:"x",y:"t",r:{value:d=>radiusOf(d.c),scale:null},fill:"p",stroke:"#000",strokeWidth:2.5}),
      Plot.frame({stroke:"#333",strokeWidth:2.5}),
      Plot.axisY({anchor:"left",label:null,tickSize:4,tickFormat:()=>"",stroke:"#333",strokeWidth:2}),
      ...terms.map((t,i)=>Plot.text([t],{y:d=>d,frameAnchor:"left",text:d=>d,dx:-7,dy:labelDy[i],textAnchor:"end",lineAnchor:"middle",lineHeight:1.23,fontSize:27,fill:"#111"})),
      ...(xAxis?[axX([.05,.07,.09,.11],{fontSize:18,tickFormat:d3.format(".2f"),tickPadding:5})]:[])
    ]});
  const s=document.createElement("div");s.className="strip";
  s.style.cssText=`left:1413px;top:${y0}px;width:24px;height:${y1-y0}px;`;root.append(s);
  rlabel(strip,1425,(y0+y1)/2,{size:17,rotate:90,color:"#333"});
}
goPanel(1030.6,1322,bpTerms,bpRatio,bpCount,bpP,"BP",.55,bpTerms.map(()=>-4),false);
goPanel(1333,1624,ccTerms,ccRatio,ccCount,ccP,"CC",.6,[-3,-3],false);
goPanel(1634,1926,mfTerms,mfRatio,mfCount,mfP,"MF",.6,[-1,-2,12],true);
label("GeneRatio",1195,1968,{size:22.5,anchor:"middle",color:"#222"});
label("p.adjust",1460,1326,{size:17.5,color:"#222"});
gradientBar(1460,1484,1339,1457,0,.0213,["#ff6666","#0080c0"],[.005,.01,.015,.02],d3.format(".3f"),{size:16});
label("Count",1460,1494,{size:15,color:"#333"});
panel(1460,1492,1519,1623,{l:0,r:50,t:14,b:14},{
  x:{domain:[0,1],axis:null},
  y:{type:"linear",domain:[3,4,5,6,7],range:[14,38,62,89,118],axis:null},
  marks:[
    Plot.dot(countSizes,{x:()=>.5,y:d=>d,r:{value:d=>radiusOf(d),scale:null},fill:"none",stroke:"#000",strokeWidth:2.5}),
    Plot.text(countSizes,{x:()=>.5,y:d=>d,text:d=>d,dx:22,textAnchor:"start",fontSize:15,fill:"#333"})]});

// ---------- E ----------
const keggRows=keggTerms.map((t,i)=>({t,c:keggCount[i],p:keggP[i]}));
panel(2253.8,2625,1094.6,1557.5,{l:640,r:10,t:5,b:50},{
  x:{domain:[-.33,7.34],axis:null},
  y:{type:"band",domain:keggTerms,paddingInner:.1,paddingOuter:.125,axis:null,round:false},
  color:{type:"linear",domain:[.00064,.0393],range:["#ff6666","#0080c0"],interpolate:"lab"},
  marks:[
    Plot.ruleX([1,3,5,7],{stroke:GRID,strokeWidth:2}),
    Plot.ruleX([0,2,4,6],{stroke:GRID,strokeWidth:3.5}),
    Plot.ruleY(keggTerms,{y:d=>d,stroke:GRID,strokeWidth:3.5}),
    Plot.barX(keggRows,{x:"c",y:"t",fill:"p"}),
    Plot.frame({stroke:"#333",strokeWidth:2.5}),
    Plot.axisY({anchor:"left",label:null,tickSize:4,tickPadding:2,fontSize:27,fill:"#111",stroke:"#333",strokeWidth:2}),
    axX([0,2,4,6],{fontSize:18,tickPadding:4})]});
label("Count",2440,1595,{size:19,anchor:"middle",color:"#222"});
label("p.adjust",2651,1256,{size:19,color:"#222"});
gradientBar(2651.7,2677.8,1272.5,1405,.00064,.0393,["#ff6666","#0080c0"],[.01,.02,.03],d3.format(".2f"),{size:15.5});

// ---------- F ----------
const boxCol={Control:"#0047A8",MASLD:"#FF1A0D"};
const boxRows=boxCats.flatMap((c,i)=>[
  {i,g:"Control",x1:i-.365,x2:i-.01,xc:i-.187,q1:boxControl[i][0],med:boxControl[i][1],q3:boxControl[i][2],lo:boxControl[i][3],hi:boxControl[i][4],out:outControl[i]},
  {i,g:"MASLD",x1:i+.01,x2:i+.365,xc:i+.187,q1:boxMasld[i][0],med:boxMasld[i][1],q3:boxMasld[i][2],lo:boxMasld[i][3],hi:boxMasld[i][4],out:outMasld[i]}]);
const outliers=boxRows.flatMap(b=>b.out.map(v=>({x:b.xc,v})));
const BOX="#333333";
panel(130.6,1650,2374.3,2847.6,{l:60,r:20,t:60,b:300},{
  x:{domain:[-.64,21.58],axis:null},
  y:{domain:[0,.5],axis:null},
  marks:[
    Plot.ruleY([0,.1,.2,.3,.4,.5],{stroke:GRID,strokeWidth:4}),
    Plot.dot(outliers,{x:"x",y:"v",r:4.3,fill:BOX}),
    Plot.ruleX(boxRows,{x:"xc",y1:"lo",y2:"hi",stroke:BOX,strokeWidth:3.5}),
    Plot.rect(boxRows,{x1:"x1",x2:"x2",y1:"q1",y2:"q3",fill:d=>boxCol[d.g],stroke:BOX,strokeWidth:3.5}),
    Plot.ruleY(boxRows,{y:"med",x1:"x1",x2:"x2",stroke:BOX,strokeWidth:7}),
    Plot.text(boxSig,{x:(d,i)=>i,frameAnchor:"top",text:d=>d,dy:-21,fontSize:25,lineAnchor:"middle",fill:"#111"}),
    Plot.axisY([0,.1,.2,.3,.4,.5],{anchor:"left",label:null,tickSize:0,tickPadding:8,fontSize:20,fill:"#666",tickFormat:d3.format(".1f")}),
    Plot.axisX(d3.range(boxCats.length),{anchor:"bottom",label:null,tickSize:0,tickPadding:9,tickRotate:-45,fontSize:27.5,fill:"#111",tickFormat:i=>boxCats[i]})
  ]});
rlabel("Estimated Proportion",67,2594,{size:27,rotate:-90,color:"#222"});
label("Group",708,2300,{size:30.5});
label("Control",859,2300,{size:31});
label("MASLD",1012,2300,{size:31});
[["Control",818,854],["MASLD",969,1006]].forEach(([g,a,b])=>{
  panel(a,b,2284,2319,{l:3,r:3,t:3,b:3},{
    x:{domain:[0,1],axis:null},y:{domain:[0,1],axis:null},
    marks:[Plot.ruleX([.5],{y1:()=>0,y2:()=>1,stroke:BOX,strokeWidth:3}),
      Plot.rect([g],{x1:()=>0,x2:()=>1,y1:()=>.17,y2:()=>.83,fill:boxCol[g],stroke:BOX,strokeWidth:3.5}),
      Plot.ruleY([.5],{x1:()=>0,x2:()=>1,stroke:BOX,strokeWidth:5})]});
});

// ---------- G ----------
const corrCol={type:"linear",domain:[-1,-.71,-.55,-.43,-.14,0,.14,.43,.71,1],
  range:["#03305f","#0a6aa8","#0090c0","#5fb0cf","#c5e0ea","#e0e0e0","#fcd0bb","#f0774f","#c6162a","#670020"],clamp:true};
const corr=[];
corrUpper.forEach((row,i)=>row.forEach((v,k)=>{const j=i+k;corr.push({r:i,c:j,v});if(i!==j)corr.push({r:j,c:i,v});}));
const lower=corr.filter(d=>d.r>d.c),upper=corr.filter(d=>d.r<=d.c);
const starRows=corrStars.map(([r,c,n])=>({r,c,s:"*".repeat(n)}));
const nm=i=>corrLabels[i];
panel(2088.7,2930.5,2163,3004,{l:400,r:5,t:380,b:5},{
  x:{type:"band",domain:corrLabels,padding:0,axis:null,round:false},
  y:{type:"band",domain:corrLabels,padding:0,axis:null,round:false},
  color:corrCol,
  r:{domain:[0,1],range:[0,19]},
  marks:[
    Plot.cell(corr,{x:d=>nm(d.c),y:d=>nm(d.r),fill:"#fff",stroke:"#c8c8c8",strokeWidth:3}),
    Plot.dot(lower,{x:d=>nm(d.c),y:d=>nm(d.r),r:d=>Math.abs(d.v),fill:"v"}),
    Plot.text(upper,{x:d=>nm(d.c),y:d=>nm(d.r),text:d=>d3.format(".2f")(d.v),fill:"v",fontSize:13.5,fontWeight:"bold"}),
    Plot.text(starRows,{x:d=>nm(d.c),y:d=>nm(d.r),text:"s",fill:"#111",fontSize:20,dy:4}),
    Plot.axisX({anchor:"top",label:null,tickSize:0,tickPadding:7,tickRotate:-90,fontSize:27,fill:"#111",dx:-4}),
    Plot.axisY({anchor:"left",label:null,tickSize:0,tickPadding:6,fontSize:27,fill:"#111"})
  ]});
const barVals=d3.range(-1,1,.05);
panel(2946,2978,2163,3004,{l:3,r:110,t:10,b:10},{
  x:{domain:[0,1],axis:null},y:{domain:[-1,1],axis:null},
  color:corrCol,
  marks:[
    Plot.rect(barVals,{x1:()=>0,x2:()=>1,y1:d=>d,y2:d=>d+.05,fill:d=>d+.025}),
    Plot.frame({stroke:"#222",strokeWidth:1.5}),
    Plot.ruleX([1],{stroke:"#000",strokeWidth:3}),
    Plot.ruleY(corrTicks,{x1:()=>1,x2:()=>1.16,stroke:"#000",strokeWidth:3}),
    Plot.ruleY([-1,1],{x1:()=>0,x2:()=>1.16,stroke:"#000",strokeWidth:4}),
    Plot.text(corrTicks,{x:()=>1,y:d=>d,text:d=>d3.format("")(d),dx:46,fontSize:26,fill:"#111"})
  ]});
</script></body></html>
